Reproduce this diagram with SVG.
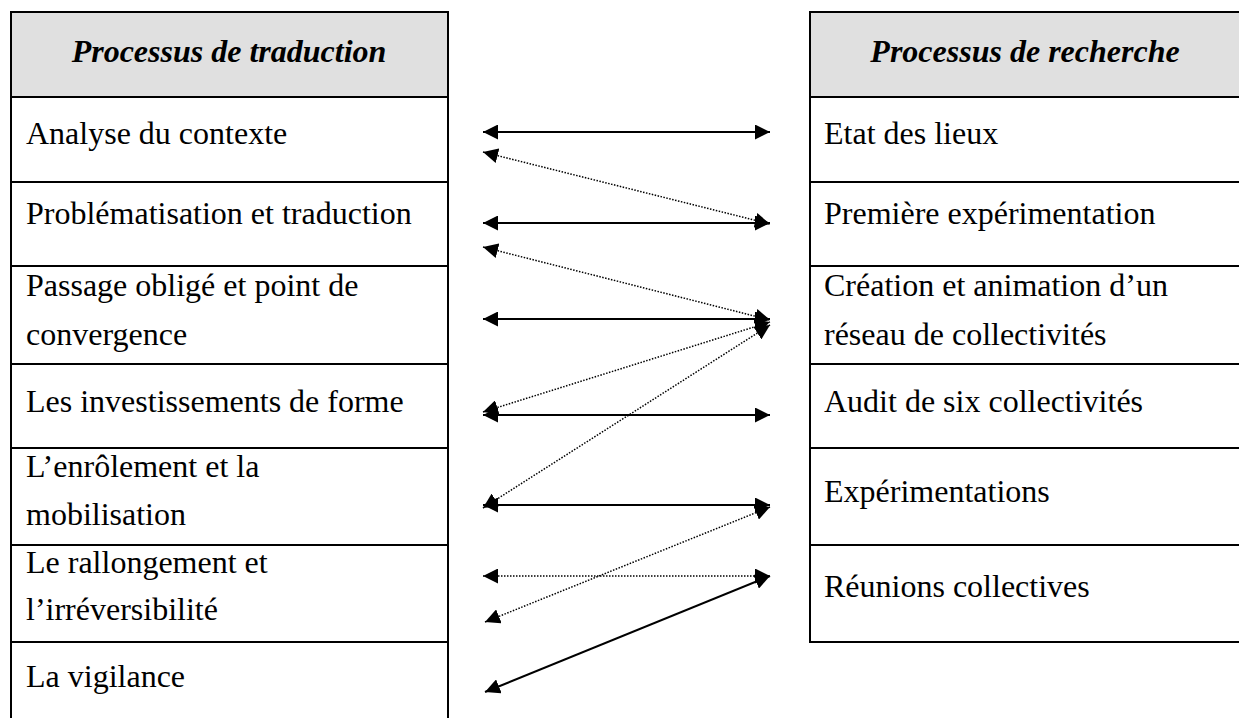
<svg xmlns="http://www.w3.org/2000/svg" width="1239" height="718" viewBox="0 0 1239 718">
<style>
.t{font-family:"Liberation Serif","Times New Roman",serif;font-size:32px;fill:#000}
.h{font-weight:bold;font-style:italic;text-anchor:middle}
.ln{stroke:#000;stroke-width:2;fill:none}
.hd{fill:#e0e0e0;stroke:none}
.s{stroke:#000;stroke-width:2;fill:none;marker-start:url(#ah);marker-end:url(#ah)}
.d{stroke:#000;stroke-width:1.5;stroke-dasharray:1.5 1.5;fill:none;marker-start:url(#ah);marker-end:url(#ah)}
</style>
<defs>
<marker id="ah" markerUnits="userSpaceOnUse" markerWidth="15" markerHeight="15" refX="15" refY="7.5" orient="auto-start-reverse" viewBox="0 0 15 15"><path d="M0,0 L15,7.5 L0,15 z" fill="#000"/></marker>
</defs>
<rect width="1239" height="718" fill="#fff"/>
<g id="left-table-frame">
<rect class="hd" x="11" y="12" width="437" height="85"/>
<path class="ln" d="M11,12 H448 M11,97 H448 M11,182 H448 M11,266 H448 M11,364 H448 M11,448 H448 M11,545 H448 M11,642 H448 M11,11 V718 M448,11 V718"/>
</g>
<g id="right-table-frame">
<rect class="hd" x="810" y="12" width="430" height="85"/>
<path class="ln" d="M810,12 H1240 M810,97 H1240 M810,182 H1240 M810,266 H1240 M810,364 H1240 M810,448 H1240 M810,545 H1240 M810,642 H1240 M810,11 V643"/>
</g>
<g id="l-header"><text class="t h" x="229" y="62">Processus de traduction</text></g>
<g id="l1"><text class="t" x="26" y="144">Analyse du contexte</text></g>
<g id="l2"><text class="t" x="26" y="224">Problématisation et traduction</text></g>
<g id="l3"><text class="t" x="26" y="296">Passage obligé et point de</text><text class="t" x="26" y="345">convergence</text></g>
<g id="l4"><text class="t" x="26" y="412">Les investissements de forme</text></g>
<g id="l5"><text class="t" x="26" y="477">L’enrôlement et la</text><text class="t" x="26" y="525">mobilisation</text></g>
<g id="l6"><text class="t" x="26" y="573">Le rallongement et</text><text class="t" x="26" y="620">l’irréversibilité</text></g>
<g id="l7"><text class="t" x="26" y="687">La vigilance</text></g>
<g id="r-header"><text class="t h" x="1025" y="62">Processus de recherche</text></g>
<g id="r1"><text class="t" x="824" y="144">Etat des lieux</text></g>
<g id="r2"><text class="t" x="824" y="224">Première expérimentation</text></g>
<g id="r3"><text class="t" x="824" y="296">Création et animation d’un</text><text class="t" x="824" y="345">réseau de collectivités</text></g>
<g id="r4"><text class="t" x="824" y="412">Audit de six collectivités</text></g>
<g id="r5"><text class="t" x="824" y="502">Expérimentations</text></g>
<g id="r6"><text class="t" x="824" y="597">Réunions collectives</text></g>
<g id="connectors">
<line class="s" x1="483" y1="132" x2="770" y2="132"/>
<line class="d" x1="483" y1="152" x2="770" y2="224"/>
<line class="s" x1="483" y1="223" x2="770" y2="223"/>
<line class="d" x1="483" y1="247" x2="770" y2="320"/>
<line class="s" x1="483" y1="319" x2="770" y2="319"/>
<line class="d" x1="483" y1="412" x2="770" y2="322"/>
<line class="s" x1="483" y1="415" x2="770" y2="415"/>
<line class="d" x1="483" y1="508" x2="770" y2="325"/>
<line class="s" x1="483" y1="505" x2="770" y2="505"/>
<line class="d" x1="485" y1="622" x2="770" y2="507"/>
<line class="d" x1="483" y1="576" x2="770" y2="576"/>
<line class="s" x1="485" y1="692" x2="770" y2="576"/>
</g>
</svg>
